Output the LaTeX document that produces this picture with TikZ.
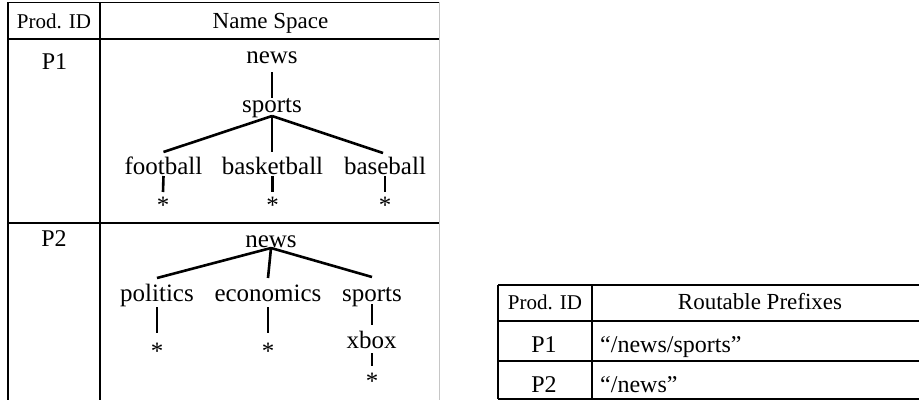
\documentclass[tikz,border=0pt]{standalone}
\usepackage{fontspec}
\setmainfont{Liberation Serif}
\usetikzlibrary{calc}
\begin{document}
\begin{tikzpicture}[x=1pt,y=-1pt,
  tree/.style={font=\fontsize{25}{30}\selectfont, inner sep=0pt, anchor=base},
  lbl/.style={font=\fontsize{24}{29}\selectfont, inner sep=0pt, anchor=base},
  pid/.style={font=\fontsize{21}{25}\selectfont, inner sep=0pt, anchor=base},
  hdr/.style={font=\fontsize{23}{28}\selectfont, inner sep=0pt, anchor=base},
  pref/.style={font=\fontsize{24}{29}\selectfont, inner sep=0pt, anchor=base west},
  edge/.style={line width=2.6pt},
  grid/.style={line width=1.1pt}]
\useasboundingbox (0,0) rectangle (919,400);

% ---- left table ----
\draw[grid] (8,2.5) -- (439,2.5);
\draw[grid] (8,39) -- (439,39);
\draw[grid] (8,223) -- (439,223);
\draw[grid] (8,2) -- (8,400);
\draw[grid] (100,2) -- (100,400);
\draw[line width=1pt, gray!45] (439,2) -- (439,400);

\node[pid] (lpid) at (54,28) {Prod. ID};
\node[hdr] (lns) at (270.5,28) {Name Space};
\node[lbl] (lp1) at (54.5,69) {P1};
\node[lbl] (lp2) at (54,246) {P2};

% ---- tree P1 ----
\node[tree] (n1) at (272,63) {news};
\node[tree] (s1) at (272,112) {sports};
\node[tree] (fb) at (163.5,174) {football};
\node[tree] (bk) at (272.5,174) {basketball};
\node[tree] (bs) at (385,174) {baseball};
\node[tree] (st1) at (163,213) {*};
\node[tree] (st2) at (272.5,213) {*};
\node[tree] (st3) at (385,213) {*};
\draw[edge] ($(n1.base)+(0,9)$) -- ($(s1.base)+(0,-14)$);
\draw[edge] ($(s1.base)+(0,4)$) -- ($(fb.base)+(0,-22)$);
\draw[edge] ($(s1.base)+(0,4)$) -- ($(bk.base)+(-0.5,-22)$);
\draw[edge] ($(s1.base)+(0,4)$) -- ($(bs.base)+(-2,-21)$);
\draw[edge] ($(fb.base)+(0,2)$) -- ($(st1.base)+(0,-21)$);
\draw[edge] ($(bk.base)+(0,2)$) -- ($(st2.base)+(0,-21)$);
\draw[edge] ($(bs.base)+(0,2)$) -- ($(st3.base)+(0,-21)$);

% ---- tree P2 ----
\node[tree] (n2) at (271,247) {news};
\node[tree] (po) at (157,301) {politics};
\node[tree] (ec) at (268,301) {economics};
\node[tree] (sp2) at (372,301) {sports};
\node[tree] (st4) at (157,359) {*};
\node[tree] (st5) at (268,359) {*};
\node[tree] (xb) at (371.5,348) {xbox};
\node[tree] (st6) at (372,389) {*};
\draw[edge] ($(n2.base)+(0,1)$) -- ($(po.base)+(0,-23)$);
\draw[edge] ($(n2.base)+(0,1)$) -- ($(ec.base)+(0,-23)$);
\draw[edge] ($(n2.base)+(0,1)$) -- ($(sp2.base)+(0,-24)$);
\draw[edge] ($(po.base)+(0,6)$) -- ($(st4.base)+(0,-26)$);
\draw[edge] ($(ec.base)+(0,6)$) -- ($(st5.base)+(0,-26)$);
\draw[edge] ($(sp2.base)+(0,3)$) -- ($(xb.base)+(0.5,-23)$);
\draw[edge] ($(xb.base)+(0.5,5)$) -- ($(st6.base)+(0,-23)$);

% ---- right table ----
\draw[grid] (498,285) -- (919,285);
\draw[grid] (498,321) -- (919,321);
\draw[grid] (498,361) -- (919,361);
\draw[grid] (498,399) -- (919,399);
\draw[grid] (498,285) -- (498,399);
\draw[grid] (592,285) -- (592,399);

\node[pid] (rpid) at (545,309) {Prod. ID};
\node[hdr] (rrp) at (760,309) {Routable Prefixes};
\node[lbl] (rp1) at (544,352) {P1};
\node[lbl] (rp2) at (544,392) {P2};
\node[pref] (pf1) at (600,352) {“/news/sports”};
\node[pref] (pf2) at (600,392) {“/news”};
\end{tikzpicture}
\end{document}
